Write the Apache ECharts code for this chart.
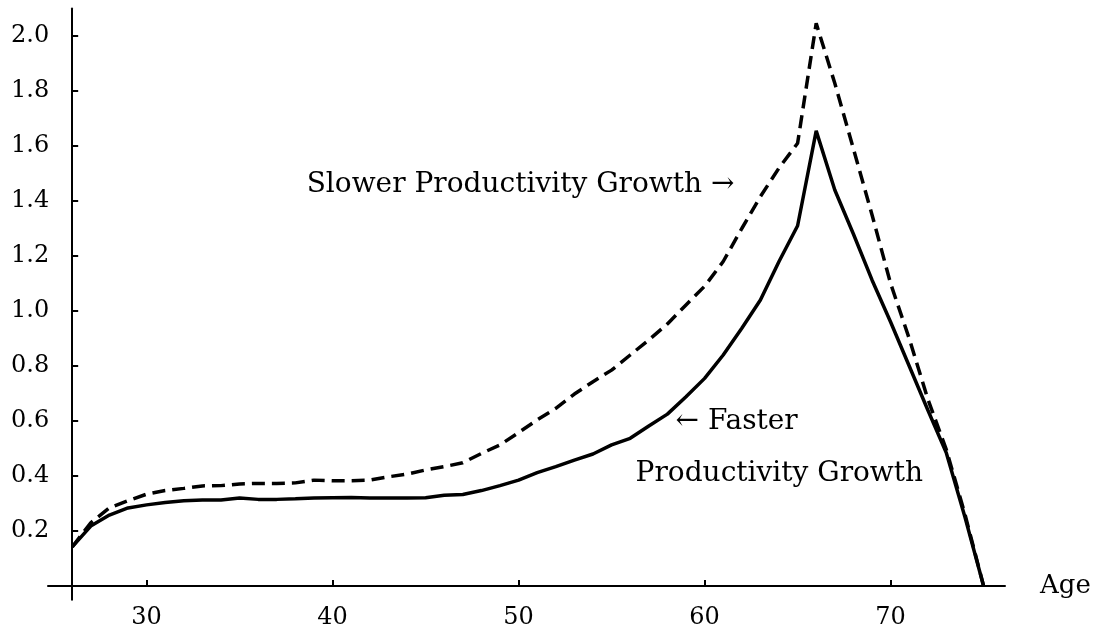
<!DOCTYPE html>
<html>
<head>
<meta charset="utf-8">
<script src="https://cdn.jsdelivr.net/npm/echarts@6/dist/echarts.min.js"></script>
<style>
  html, body { margin: 0; padding: 0; background: #fff; }
  #chart { width: 1098px; height: 634px; }
</style>
</head>
<body>
<div id="chart"></div>
<script>
// ages 26..75
const ages = [26, 27, 28, 29, 30, 31, 32, 33, 34, 35, 36, 37, 38, 39, 40, 41, 42, 43, 44, 45,
  46, 47, 48, 49, 50, 51, 52, 53, 54, 55, 56, 57, 58, 59, 60, 61, 62, 63, 64, 65,
  66, 67, 68, 69, 70, 71, 72, 73, 74, 75]

const faster = [0.142, 0.218, 0.258, 0.284, 0.295, 0.304, 0.310, 0.313, 0.313, 0.320,
  0.315, 0.315, 0.317, 0.320, 0.321, 0.322, 0.320, 0.320, 0.320, 0.321,
  0.330, 0.333, 0.347, 0.365, 0.385, 0.412, 0.434, 0.458, 0.480, 0.513,
  0.537, 0.582, 0.625, 0.688, 0.755, 0.840, 0.937, 1.040, 1.180, 1.310,
  1.655, 1.440, 1.280, 1.113, 0.960, 0.800, 0.640, 0.483, 0.250, 0.000]

const slower = [0.142, 0.230, 0.284, 0.310, 0.334, 0.347, 0.355, 0.364, 0.365, 0.371,
  0.373, 0.373, 0.375, 0.385, 0.383, 0.383, 0.385, 0.397, 0.407, 0.422,
  0.434, 0.448, 0.482, 0.513, 0.558, 0.604, 0.646, 0.698, 0.743, 0.785,
  0.840, 0.895, 0.953, 1.022, 1.090, 1.180, 1.300, 1.416, 1.520, 1.610,
  2.046, 1.828, 1.590, 1.350, 1.100, 0.900, 0.680, 0.495, 0.260, 0.000]

const xTicks = [30, 40, 50, 60, 70]
const yTicks = [0.2, 0.4, 0.6, 0.8, 1.0, 1.2, 1.4, 1.6, 1.8, 2.0]

// annotation text anchored in data coordinates
const notes = [
  { text: 'Slower Productivity Growth →', at: [61.6, 1.46], align: 'right' },
  { text: '← Faster', at: [58.44, 0.597], align: 'left' },
  { text: 'Productivity Growth', at: [56.29, 0.41], align: 'left' },
]

const FONT = '"DejaVu Serif", "Liberation Serif", serif'
const FS = 24
const xMin = 24.7

const chart = echarts.init(document.getElementById('chart'))

const option = {
  animation: false,
  grid: { left: 48, top: 8.5, width: 957, height: 591.25, outerBoundsMode: 'none', containLabel: false },
  xAxis: {
    type: 'value',
    min: xMin,
    max: 76.15,
    name: 'Age',
    nameLocation: 'end',
    nameGap: 35,
    nameTextStyle: { color: '#000', fontSize: 26, fontFamily: FONT, verticalAlign: 'middle' },
    axisLine: { onZero: true, lineStyle: { color: '#000', width: 2 } },
    axisTick: { inside: true, length: 6, lineStyle: { color: '#000', width: 2 }, customValues: xTicks },
    axisLabel: { color: '#000', fontSize: FS, fontFamily: FONT, margin: 6, customValues: xTicks },
    splitLine: { show: false },
  },
  yAxis: {
    type: 'value',
    min: -0.05,
    max: 2.1,
    offset: 0,
    axisLine: { show: true, onZero: false, lineStyle: { color: '#000', width: 2 } },
    axisTick: { show: true, inside: true, length: 6, lineStyle: { color: '#000', width: 2 }, customValues: yTicks },
    axisLabel: {
      color: '#000', fontSize: FS, fontFamily: FONT, margin: 23,
      customValues: yTicks,
      formatter: v => v.toFixed(1),
    },
    splitLine: { show: false },
  },
  series: [
    {
      name: 'Slower Productivity Growth',
      type: 'line',
      data: ages.map((a, i) => [a, slower[i]]),
      symbol: 'none',
      lineStyle: { color: '#000', width: 3.5, type: [13, 7] },
    },
    {
      name: 'Faster Productivity Growth',
      type: 'line',
      data: ages.map((a, i) => [a, faster[i]]),
      symbol: 'none',
      lineStyle: { color: '#000', width: 3.5 },
    },
  ],
}

chart.setOption(option)

// move the y axis to age 26 and place the annotations
const y0 = chart.convertToPixel({ gridIndex: 0 }, [26, 0])
const left = chart.convertToPixel({ gridIndex: 0 }, [xMin, 0])
chart.setOption({
  yAxis: { offset: -(y0[0] - left[0]) },
  graphic: notes.map(n => {
    const p = chart.convertToPixel({ gridIndex: 0 }, n.at)
    return {
      type: 'text',
      x: p[0],
      y: p[1],
      style: {
        text: n.text,
        fill: '#000',
        font: '28px ' + FONT,
        textAlign: n.align,
        textVerticalAlign: 'middle',
      },
    }
  }),
})
</script>
</body>
</html>
